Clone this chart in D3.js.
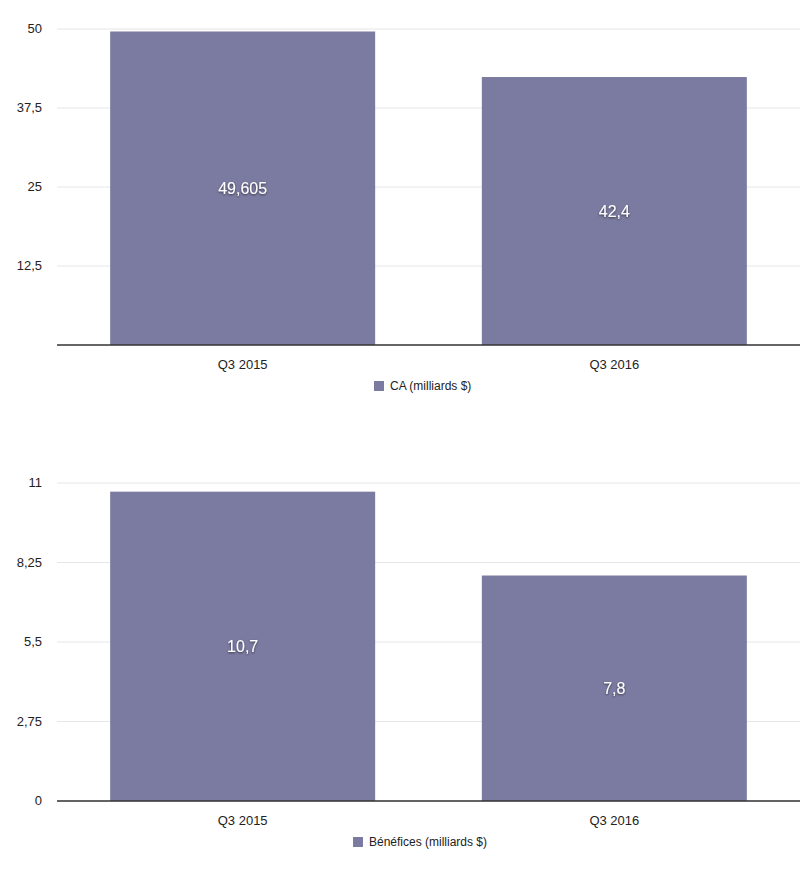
<!DOCTYPE html>
<html><head><meta charset="utf-8">
<script src="https://cdn.jsdelivr.net/npm/d3@7"></script>
<style>body{margin:0;background:#fff;font-family:"Helvetica Neue",Arial,"Liberation Sans",sans-serif}</style>
</head><body><svg id="c" width="800" height="871"></svg>
<script>
const categories = ["Q3 2015", "Q3 2016"];
const caValues = [49.605, 42.4];
const caLabels = ["49,605", "42,4"];
const caTicks = [12.5, 25, 37.5, 50];
const benValues = [10.7, 7.8];
const benLabels = ["10,7", "7,8"];
const benTicks = [0, 2.75, 5.5, 8.25, 11];
const fmt = v => String(v).replace(".", ",");
const color = "#7b7ba1";
const svg = d3.select("#c");
const defs = svg.append("defs");
defs.append("filter").attr("id","sh").append("feDropShadow")
  .attr("dx",0).attr("dy",1).attr("stdDeviation",0.8).attr("flood-color","#000").attr("flood-opacity",0.6);

function chart(cfg){
  const x = d3.scaleBand().domain(categories).range([57,800]).paddingInner(0.287).paddingOuter(0.143);
  const y = d3.scaleLinear().domain([0,cfg.max]).range([cfg.bottom,cfg.top]);
  const g = svg.append("g");
  g.selectAll(".gl").data(cfg.ticks).join("line").attr("x1",57).attr("x2",800)
    .attr("y1",d=>y(d)).attr("y2",d=>y(d)).attr("stroke","#e6e6e6");
  g.selectAll(".tl").data(cfg.ticks).join("text").attr("x",42).attr("y",d=>y(d)+4)
    .attr("text-anchor","end").attr("font-size",13).attr("fill","#222").text(fmt);
  g.selectAll("rect").data(cfg.values).join("rect")
    .attr("x",(d,i)=>x(categories[i])).attr("width",x.bandwidth())
    .attr("y",d=>y(d)).attr("height",d=>y(0)-y(d)).attr("fill",color);
  g.selectAll(".vl").data(cfg.values).join("text")
    .attr("x",(d,i)=>x(categories[i])+x.bandwidth()/2).attr("y",d=>(y(d)+y(0))/2+6)
    .attr("text-anchor","middle").attr("font-size",16).attr("fill","#fff").attr("filter","url(#sh)")
    .text((d,i)=>cfg.labels[i]);
  g.append("line").attr("x1",57).attr("x2",800).attr("y1",y(0)).attr("y2",y(0)).attr("stroke","#333").attr("stroke-width",1.5);
  g.selectAll(".xl").data(categories).join("text").attr("x",d=>x(d)+x.bandwidth()/2).attr("y",y(0)+24)
    .attr("text-anchor","middle").attr("font-size",13).attr("fill","#222").text(d=>d);
  const lg = g.append("g").attr("transform",`translate(${cfg.legX},${y(0)+45})`);
  lg.append("rect").attr("x",0).attr("y",-9).attr("width",10).attr("height",10).attr("fill",color);
  lg.append("text").attr("x",16).attr("y",0).attr("font-size",12).attr("fill","#222").text(cfg.legend);
}
chart({values:caValues,labels:caLabels,ticks:caTicks,max:50,top:29,bottom:345,legend:"CA (milliards $)",legX:374});
chart({values:benValues,labels:benLabels,ticks:benTicks,max:11,top:483,bottom:801,legend:"Bénéfices (milliards $)",legX:353});
</script></body></html>
